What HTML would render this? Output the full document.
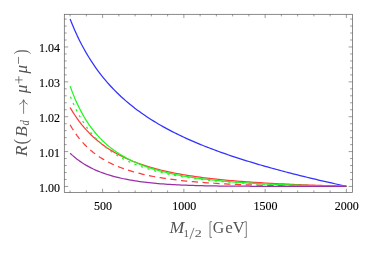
<!DOCTYPE html><html><head><meta charset="utf-8"><style>html,body{margin:0;padding:0;background:#fff;overflow:hidden}svg{display:block;will-change:transform}text{font-family:"Liberation Serif",serif}</style></head><body>
<svg width="374" height="253" viewBox="0 0 374 253">
<rect width="374" height="253" fill="#fff"/>
<polyline points="70.09,19.09 72.42,24.85 74.74,30.26 77.06,35.36 79.38,40.16 81.70,44.71 84.03,49.01 86.35,53.10 88.67,56.98 90.99,60.68 93.31,64.20 95.63,67.56 97.96,70.78 100.28,73.86 102.60,76.81 104.92,79.64 107.24,82.36 109.57,84.98 111.89,87.50 114.21,89.92 116.53,92.26 118.85,94.52 121.17,96.70 123.50,98.81 125.82,100.85 128.14,102.83 130.46,104.74 132.78,106.60 135.11,108.40 137.43,110.15 139.75,111.85 142.07,113.51 144.39,115.11 146.72,116.68 149.04,118.21 151.36,119.69 153.68,121.14 156.00,122.56 158.32,123.94 160.65,125.28 162.97,126.60 165.29,127.89 167.61,129.15 169.93,130.38 172.26,131.58 174.58,132.76 176.90,133.92 179.22,135.05 181.54,136.16 183.87,137.25 186.19,138.32 188.51,139.37 190.83,140.40 193.15,141.41 195.47,142.40 197.80,143.38 200.12,144.34 202.44,145.28 204.76,146.21 207.08,147.13 209.41,148.03 211.73,148.91 214.05,149.78 216.37,150.64 218.69,151.49 221.01,152.32 223.34,153.15 225.66,153.96 227.98,154.76 230.30,155.55 232.62,156.33 234.95,157.10 237.27,157.86 239.59,158.61 241.91,159.35 244.23,160.08 246.56,160.80 248.88,161.52 251.20,162.22 253.52,162.92 255.84,163.61 258.16,164.30 260.49,164.98 262.81,165.65 265.13,166.31 267.45,166.96 269.77,167.61 272.10,168.26 274.42,168.89 276.74,169.52 279.06,170.15 281.38,170.77 283.70,171.38 286.03,171.99 288.35,172.60 290.67,173.19 292.99,173.79 295.31,174.38 297.64,174.96 299.96,175.54 302.28,176.11 304.60,176.68 306.92,177.25 309.25,177.81 311.57,178.37 313.89,178.92 316.21,179.47 318.53,180.02 320.85,180.56 323.18,181.10 325.50,181.63 327.82,182.16 330.14,182.69 332.46,183.22 334.79,183.74 337.11,184.26 339.43,184.77 341.75,185.28 344.07,185.79 346.39,186.30" fill="none" stroke="#3232ff" stroke-width="1.25" stroke-linejoin="round"/>
<polyline points="70.09,107.54 72.42,111.41 74.74,115.02 77.06,118.40 79.38,121.56 81.70,124.53 84.03,127.32 86.35,129.94 88.67,132.41 90.99,134.74 93.31,136.95 95.63,139.03 97.96,141.00 100.28,142.86 102.60,144.63 104.92,146.31 107.24,147.91 109.57,149.43 111.89,150.87 114.21,152.25 116.53,153.56 118.85,154.81 121.17,156.00 123.50,157.14 125.82,158.22 128.14,159.26 130.46,160.26 132.78,161.21 135.11,162.12 137.43,162.99 139.75,163.83 142.07,164.63 144.39,165.40 146.72,166.13 149.04,166.84 151.36,167.52 153.68,168.18 156.00,168.81 158.32,169.41 160.65,169.99 162.97,170.55 165.29,171.09 167.61,171.61 169.93,172.11 172.26,172.59 174.58,173.05 176.90,173.50 179.22,173.93 181.54,174.35 183.87,174.75 186.19,175.14 188.51,175.51 190.83,175.87 193.15,176.22 195.47,176.56 197.80,176.89 200.12,177.20 202.44,177.51 204.76,177.80 207.08,178.09 209.41,178.36 211.73,178.63 214.05,178.89 216.37,179.14 218.69,179.39 221.01,179.62 223.34,179.85 225.66,180.07 227.98,180.29 230.30,180.50 232.62,180.70 234.95,180.89 237.27,181.09 239.59,181.27 241.91,181.45 244.23,181.63 246.56,181.80 248.88,181.96 251.20,182.12 253.52,182.28 255.84,182.43 258.16,182.58 260.49,182.72 262.81,182.86 265.13,183.00 267.45,183.13 269.77,183.27 272.10,183.39 274.42,183.52 276.74,183.64 279.06,183.75 281.38,183.87 283.70,183.98 286.03,184.09 288.35,184.20 290.67,184.30 292.99,184.41 295.31,184.51 297.64,184.61 299.96,184.70 302.28,184.80 304.60,184.89 306.92,184.98 309.25,185.07 311.57,185.16 313.89,185.24 316.21,185.33 318.53,185.41 320.85,185.49 323.18,185.57 325.50,185.65 327.82,185.72 330.14,185.80 332.46,185.87 334.79,185.95 337.11,186.02 339.43,186.09 341.75,186.16 344.07,186.23 346.39,186.30" fill="none" stroke="#ff3a3a" stroke-width="1.25" stroke-linejoin="round"/>
<polyline points="70.09,124.79 72.42,128.72 74.74,132.31 77.06,135.59 79.38,138.60 81.70,141.38 84.03,143.94 86.35,146.30 88.67,148.50 90.99,150.54 93.31,152.44 95.63,154.21 97.96,155.86 100.28,157.41 102.60,158.86 104.92,160.22 107.24,161.50 109.57,162.70 111.89,163.84 114.21,164.90 116.53,165.91 118.85,166.86 121.17,167.76 123.50,168.62 125.82,169.42 128.14,170.19 130.46,170.92 132.78,171.61 135.11,172.26 137.43,172.88 139.75,173.48 142.07,174.04 144.39,174.58 146.72,175.09 149.04,175.58 151.36,176.04 153.68,176.49 156.00,176.91 158.32,177.32 160.65,177.71 162.97,178.08 165.29,178.43 167.61,178.77 169.93,179.10 172.26,179.41 174.58,179.71 176.90,179.99 179.22,180.27 181.54,180.53 183.87,180.78 186.19,181.02 188.51,181.25 190.83,181.47 193.15,181.68 195.47,181.89 197.80,182.08 200.12,182.27 202.44,182.45 204.76,182.63 207.08,182.79 209.41,182.95 211.73,183.11 214.05,183.25 216.37,183.40 218.69,183.53 221.01,183.66 223.34,183.79 225.66,183.91 227.98,184.02 230.30,184.14 232.62,184.24 234.95,184.35 237.27,184.44 239.59,184.54 241.91,184.63 244.23,184.72 246.56,184.80 248.88,184.88 251.20,184.96 253.52,185.03 255.84,185.10 258.16,185.17 260.49,185.23 262.81,185.30 265.13,185.36 267.45,185.41 269.77,185.47 272.10,185.52 274.42,185.57 276.74,185.62 279.06,185.66 281.38,185.71 283.70,185.75 286.03,185.79 288.35,185.83 290.67,185.86 292.99,185.90 295.31,185.93 297.64,185.96 299.96,185.99 302.28,186.02 304.60,186.04 306.92,186.07 309.25,186.09 311.57,186.11 313.89,186.13 316.21,186.15 318.53,186.17 320.85,186.19 323.18,186.20 325.50,186.22 327.82,186.23 330.14,186.24 332.46,186.25 334.79,186.26 337.11,186.27 339.43,186.28 341.75,186.29 344.07,186.29 346.39,186.30" fill="none" stroke="#ff3a3a" stroke-width="1.25" stroke-linejoin="round" stroke-dasharray="6.3 4.5"/>
<polyline points="70.09,86.10 72.42,92.39 74.74,98.13 77.06,103.38 79.38,108.20 81.70,112.65 84.03,116.75 86.35,120.55 88.67,124.07 90.99,127.34 93.31,130.39 95.63,133.23 97.96,135.89 100.28,138.37 102.60,140.70 104.92,142.89 107.24,144.94 109.57,146.88 111.89,148.70 114.21,150.41 116.53,152.03 118.85,153.56 121.17,155.01 123.50,156.38 125.82,157.68 128.14,158.92 130.46,160.08 132.78,161.20 135.11,162.25 137.43,163.26 139.75,164.21 142.07,165.12 144.39,165.99 146.72,166.82 149.04,167.61 151.36,168.36 153.68,169.08 156.00,169.77 158.32,170.42 160.65,171.05 162.97,171.66 165.29,172.23 167.61,172.78 169.93,173.31 172.26,173.82 174.58,174.31 176.90,174.77 179.22,175.22 181.54,175.65 183.87,176.06 186.19,176.46 188.51,176.84 190.83,177.21 193.15,177.56 195.47,177.90 197.80,178.22 200.12,178.53 202.44,178.84 204.76,179.13 207.08,179.41 209.41,179.67 211.73,179.93 214.05,180.18 216.37,180.42 218.69,180.66 221.01,180.88 223.34,181.10 225.66,181.30 227.98,181.51 230.30,181.70 232.62,181.89 234.95,182.07 237.27,182.24 239.59,182.41 241.91,182.57 244.23,182.73 246.56,182.88 248.88,183.03 251.20,183.17 253.52,183.31 255.84,183.44 258.16,183.57 260.49,183.69 262.81,183.81 265.13,183.92 267.45,184.04 269.77,184.14 272.10,184.25 274.42,184.35 276.74,184.45 279.06,184.54 281.38,184.63 283.70,184.72 286.03,184.81 288.35,184.89 290.67,184.97 292.99,185.05 295.31,185.12 297.64,185.20 299.96,185.27 302.28,185.34 304.60,185.40 306.92,185.47 309.25,185.53 311.57,185.59 313.89,185.65 316.21,185.70 318.53,185.76 320.85,185.81 323.18,185.86 325.50,185.91 327.82,185.96 330.14,186.01 332.46,186.05 334.79,186.10 337.11,186.14 339.43,186.18 341.75,186.22 344.07,186.26 346.39,186.30" fill="none" stroke="#1cf81c" stroke-width="1.25" stroke-linejoin="round"/>
<polyline points="70.09,95.85 72.42,101.49 74.74,106.65 77.06,111.36 79.38,115.69 81.70,119.68 84.03,123.36 86.35,126.76 88.67,129.92 90.99,132.86 93.31,135.59 95.63,138.14 97.96,140.53 100.28,142.76 102.60,144.85 104.92,146.82 107.24,148.66 109.57,150.40 111.89,152.04 114.21,153.59 116.53,155.05 118.85,156.43 121.17,157.74 123.50,158.98 125.82,160.16 128.14,161.27 130.46,162.33 132.78,163.34 135.11,164.30 137.43,165.21 139.75,166.08 142.07,166.91 144.39,167.70 146.72,168.46 149.04,169.18 151.36,169.87 153.68,170.53 156.00,171.16 158.32,171.76 160.65,172.34 162.97,172.89 165.29,173.42 167.61,173.93 169.93,174.42 172.26,174.89 174.58,175.34 176.90,175.77 179.22,176.19 181.54,176.58 183.87,176.97 186.19,177.33 188.51,177.69 190.83,178.03 193.15,178.36 195.47,178.67 197.80,178.98 200.12,179.27 202.44,179.55 204.76,179.82 207.08,180.08 209.41,180.33 211.73,180.58 214.05,180.81 216.37,181.04 218.69,181.25 221.01,181.46 223.34,181.66 225.66,181.86 227.98,182.05 230.30,182.23 232.62,182.40 234.95,182.57 237.27,182.74 239.59,182.89 241.91,183.04 244.23,183.19 246.56,183.33 248.88,183.47 251.20,183.60 253.52,183.73 255.84,183.85 258.16,183.97 260.49,184.08 262.81,184.19 265.13,184.30 267.45,184.40 269.77,184.50 272.10,184.59 274.42,184.69 276.74,184.77 279.06,184.86 281.38,184.94 283.70,185.02 286.03,185.10 288.35,185.17 290.67,185.24 292.99,185.31 295.31,185.38 297.64,185.44 299.96,185.50 302.28,185.56 304.60,185.61 306.92,185.67 309.25,185.72 311.57,185.77 313.89,185.82 316.21,185.86 318.53,185.91 320.85,185.95 323.18,185.99 325.50,186.03 327.82,186.06 330.14,186.10 332.46,186.13 334.79,186.16 337.11,186.19 339.43,186.22 341.75,186.25 344.07,186.28 346.39,186.30" fill="none" stroke="#1cf81c" stroke-width="1.25" stroke-linejoin="round" stroke-dasharray="2.2 4.65" stroke-dashoffset="-0.9"/>
<polyline points="70.09,153.24 72.42,155.36 74.74,157.33 77.06,159.17 79.38,160.87 81.70,162.47 84.03,163.96 86.35,165.35 88.67,166.64 90.99,167.86 93.31,169.00 95.63,170.06 97.96,171.06 100.28,172.00 102.60,172.87 104.92,173.70 107.24,174.47 109.57,175.20 111.89,175.89 114.21,176.53 116.53,177.13 118.85,177.70 121.17,178.24 123.50,178.74 125.82,179.22 128.14,179.66 130.46,180.08 132.78,180.48 135.11,180.85 137.43,181.20 139.75,181.53 142.07,181.85 144.39,182.14 146.72,182.41 149.04,182.67 151.36,182.92 153.68,183.15 156.00,183.36 158.32,183.57 160.65,183.76 162.97,183.94 165.29,184.11 167.61,184.27 169.93,184.42 172.26,184.56 174.58,184.69 176.90,184.81 179.22,184.92 181.54,185.03 183.87,185.13 186.19,185.23 188.51,185.31 190.83,185.40 193.15,185.47 195.47,185.54 197.80,185.61 200.12,185.67 202.44,185.73 204.76,185.78 207.08,185.83 209.41,185.87 211.73,185.92 214.05,185.95 216.37,185.99 218.69,186.02 221.01,186.05 223.34,186.08 225.66,186.10 227.98,186.12 230.30,186.14 232.62,186.16 234.95,186.18 237.27,186.19 239.59,186.21 241.91,186.22 244.23,186.23 246.56,186.23 248.88,186.24 251.20,186.25 253.52,186.25 255.84,186.26 258.16,186.26 260.49,186.26 262.81,186.27 265.13,186.27 267.45,186.27 269.77,186.27 272.10,186.27 274.42,186.27 276.74,186.27 279.06,186.26 281.38,186.26 283.70,186.26 286.03,186.26 288.35,186.26 290.67,186.26 292.99,186.25 295.31,186.25 297.64,186.25 299.96,186.25 302.28,186.25 304.60,186.25 306.92,186.25 309.25,186.25 311.57,186.25 313.89,186.25 316.21,186.25 318.53,186.25 320.85,186.25 323.18,186.25 325.50,186.25 327.82,186.26 330.14,186.26 332.46,186.26 334.79,186.27 337.11,186.27 339.43,186.28 341.75,186.29 344.07,186.29 346.39,186.30" fill="none" stroke="#9a30a8" stroke-width="1.25" stroke-linejoin="round"/>
<rect x="64.30" y="14.30" width="288.20" height="178.20" fill="none" stroke="#5a5a5a" stroke-width="0.7"/>
<path d="M70.09,192.50v-2.10M70.09,14.30v2.10M86.35,192.50v-2.10M86.35,14.30v2.10M102.60,192.50v-3.70M102.60,14.30v3.70M118.85,192.50v-2.10M118.85,14.30v2.10M135.11,192.50v-2.10M135.11,14.30v2.10M151.36,192.50v-2.10M151.36,14.30v2.10M167.61,192.50v-2.10M167.61,14.30v2.10M183.87,192.50v-3.70M183.87,14.30v3.70M200.12,192.50v-2.10M200.12,14.30v2.10M216.37,192.50v-2.10M216.37,14.30v2.10M232.62,192.50v-2.10M232.62,14.30v2.10M248.88,192.50v-2.10M248.88,14.30v2.10M265.13,192.50v-3.70M265.13,14.30v3.70M281.38,192.50v-2.10M281.38,14.30v2.10M297.64,192.50v-2.10M297.64,14.30v2.10M313.89,192.50v-2.10M313.89,14.30v2.10M330.14,192.50v-2.10M330.14,14.30v2.10M346.39,192.50v-3.70M346.39,14.30v3.70M64.30,186.45h3.90M352.50,186.45h-3.90M64.30,179.48h2.40M352.50,179.48h-2.40M64.30,172.50h2.40M352.50,172.50h-2.40M64.30,165.53h2.40M352.50,165.53h-2.40M64.30,158.56h2.40M352.50,158.56h-2.40M64.30,151.58h3.90M352.50,151.58h-3.90M64.30,144.61h2.40M352.50,144.61h-2.40M64.30,137.64h2.40M352.50,137.64h-2.40M64.30,130.66h2.40M352.50,130.66h-2.40M64.30,123.69h2.40M352.50,123.69h-2.40M64.30,116.71h3.90M352.50,116.71h-3.90M64.30,109.74h2.40M352.50,109.74h-2.40M64.30,102.77h2.40M352.50,102.77h-2.40M64.30,95.79h2.40M352.50,95.79h-2.40M64.30,88.82h2.40M352.50,88.82h-2.40M64.30,81.85h3.90M352.50,81.85h-3.90M64.30,74.87h2.40M352.50,74.87h-2.40M64.30,67.90h2.40M352.50,67.90h-2.40M64.30,60.93h2.40M352.50,60.93h-2.40M64.30,53.95h2.40M352.50,53.95h-2.40M64.30,46.98h3.90M352.50,46.98h-3.90M64.30,40.01h2.40M352.50,40.01h-2.40M64.30,33.03h2.40M352.50,33.03h-2.40M64.30,26.06h2.40M352.50,26.06h-2.40M64.30,19.09h2.40M352.50,19.09h-2.40" fill="none" stroke="#5a5a5a" stroke-width="0.6"/>
<text x="103.05" y="209.6" font-size="12" text-anchor="middle" fill="#000" stroke="#000" stroke-width="0.12">500</text>
<text x="184.31" y="209.6" font-size="12" text-anchor="middle" fill="#000" stroke="#000" stroke-width="0.12">1000</text>
<text x="265.58" y="209.6" font-size="12" text-anchor="middle" fill="#000" stroke="#000" stroke-width="0.12">1500</text>
<text x="346.84" y="209.6" font-size="12" text-anchor="middle" fill="#000" stroke="#000" stroke-width="0.12">2000</text>
<text x="60.1" y="192.00" font-size="12" text-anchor="end" fill="#000" stroke="#000" stroke-width="0.12">1.00</text>
<text x="60.1" y="157.00" font-size="12" text-anchor="end" fill="#000" stroke="#000" stroke-width="0.12">1.01</text>
<text x="60.1" y="122.00" font-size="12" text-anchor="end" fill="#000" stroke="#000" stroke-width="0.12">1.02</text>
<text x="60.1" y="87.10" font-size="12" text-anchor="end" fill="#000" stroke="#000" stroke-width="0.12">1.03</text>
<text x="60.1" y="52.10" font-size="12" text-anchor="end" fill="#000" stroke="#000" stroke-width="0.12">1.04</text>
<text transform="translate(177.20,233.40) scale(1.032,1)" x="-7.44" y="0" font-size="17.2" font-style="italic" fill="#545454">M</text>
<text transform="translate(186.30,236.50) scale(1.000,1)" x="-2.85" y="0" font-size="10.8" font-style="normal" fill="#545454">1</text>
<text transform="translate(198.20,236.50) scale(1.296,1)" x="-2.65" y="0" font-size="10.8" font-style="normal" fill="#545454">2</text>
<path d="M189.8,239.2L194,227.9" stroke="#545454" stroke-width="0.75" fill="none"/>
<path d="M212,221.7H210V237.4H212M244.3,221.7H246.3V237.4H244.3" stroke="#545454" stroke-width="0.75" fill="none"/>
<text transform="translate(218.45,233.40) scale(0.921,1)" x="-6.28" y="0" font-size="17.2" font-style="normal" fill="#545454">G</text>
<text transform="translate(228.95,233.40) scale(0.990,1)" x="-3.87" y="0" font-size="17.2" font-style="normal" fill="#545454">e</text>
<text transform="translate(238.65,233.40) scale(0.955,1)" x="-6.19" y="0" font-size="17.2" font-style="normal" fill="#545454">V</text>
<g transform="rotate(-90)">
<text transform="translate(-151.25,27.40) scale(1.047,1)" x="-5.07" y="0" font-size="17.2" font-style="italic" fill="#545454">R</text>
<text transform="translate(-141.50,27.40) scale(0.921,1)" x="-3.16" y="0" font-size="18.3" font-style="normal" fill="#545454">(</text>
<text transform="translate(-131.80,27.40) scale(1.032,1)" x="-5.16" y="0" font-size="17.2" font-style="italic" fill="#545454">B</text>
<text transform="translate(-122.80,29.40) scale(0.897,1)" x="-3.14" y="0" font-size="11.8" font-style="italic" fill="#545454">d</text>
<text transform="translate(-89.35,27.40) scale(0.995,1)" x="-4.02" y="0" font-size="17.2" font-style="italic" fill="#545454">μ</text>
<text transform="translate(-69.50,27.40) scale(0.995,1)" x="-4.02" y="0" font-size="17.2" font-style="italic" fill="#545454">μ</text>
<text transform="translate(-52.00,27.40) scale(0.764,1)" x="-2.95" y="0" font-size="18.3" font-style="normal" fill="#545454">)</text>
</g>
<path d="M23.6,113.8V99.8M19.3,104.3Q22.8,103 23.6,99.7Q24.4,103 27.7,104.3" stroke="#545454" stroke-width="0.75" fill="none"/>
<path d="M18.8,76.2V83.6M15,79.9H22.6M18.5,56.9V63.8" stroke="#545454" stroke-width="0.75" fill="none"/>
</svg></body></html>
